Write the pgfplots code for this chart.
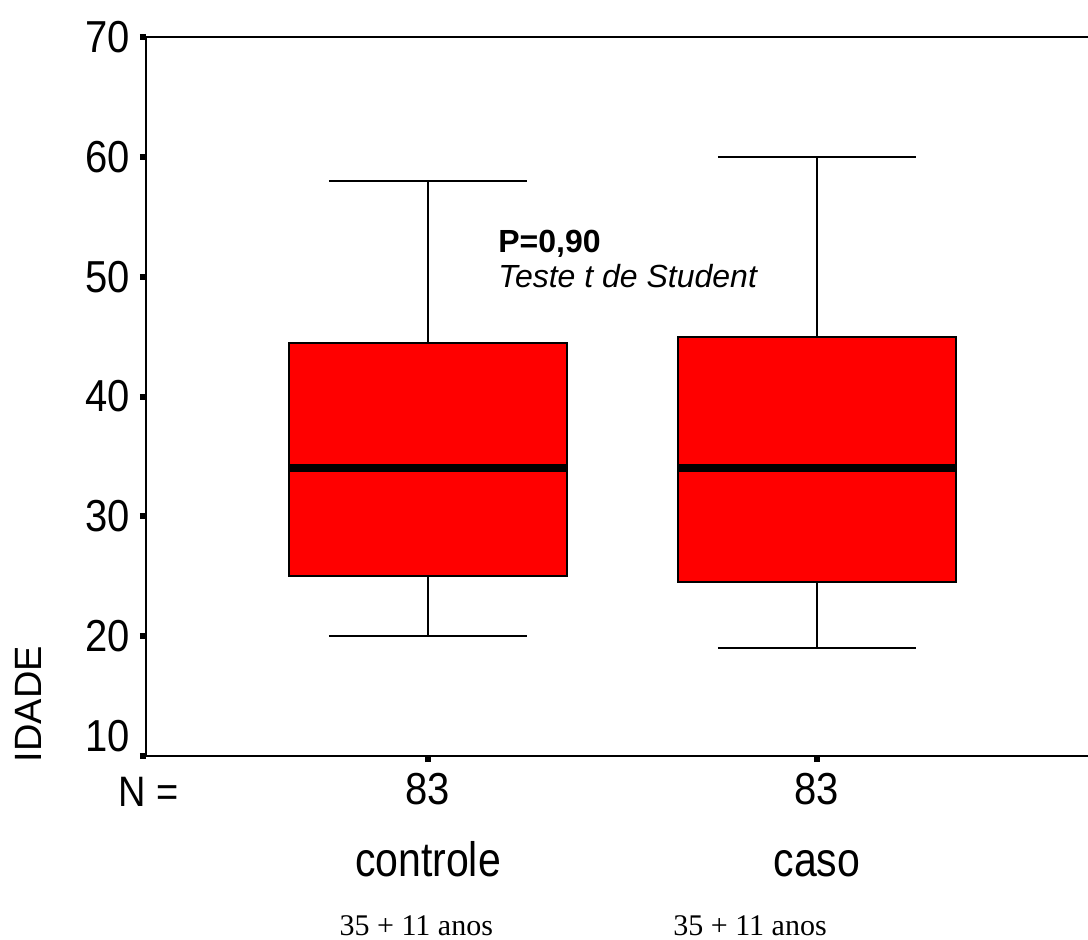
\documentclass[border=0pt]{standalone}
\usepackage{graphicx}
\usepackage{pgfplots}
\pgfplotsset{compat=1.18}
\usepgfplotslibrary{statistics}
\usepackage{fontspec}
\setmainfont{Liberation Sans}
\newfontfamily\timesf{Liberation Serif}
\newcommand{\st}[1]{\scalebox{1}[1.12]{#1}}
\begin{document}
\begin{tikzpicture}
\begin{axis}[
  scale only axis,
  width=471pt, height=359.5pt,
  xmin=0.2751, xmax=2.6967,
  ymin=10, ymax=70,
  axis x line*=bottom, axis y line*=left,
  axis line style={line width=1.4pt, black},
  clip=false,
  tick align=outside,
  major tick length=3pt,
  tick style={line width=3pt, black},
  xtick={1,2}, xticklabels={\st{83},\st{83}},
  ytick={20,30,40,50,60,70},
  yticklabel={\st{\pgfmathprintnumber{\tick}}},
  extra y ticks={10},
  extra y tick style={yticklabel style={yshift=10pt}},
  /pgf/number format/assume math mode=true,
  ticklabel style={font=\fontsize{20}{24}\selectfont, inner sep=0pt},
  yticklabel style={anchor=east, xshift=-5pt},
  xticklabel style={anchor=base, yshift=-21pt},
  boxplot/draw direction=y,
  boxplot/every median/.style={line width=4pt, black},
  boxplot/every box/.style={line width=1pt, draw=black, fill=red},
  boxplot/every whisker/.style={line width=1.1pt, black},
]
\addplot+[solid, black, mark=none, boxplot prepared={
  lower whisker=20, lower quartile=25, median=34,
  upper quartile=44.5, upper whisker=58,
  draw position=1, box extend=0.7147, whisker extend=0.509}]
  coordinates {};
\addplot+[solid, black, mark=none, boxplot prepared={
  lower whisker=19, lower quartile=24.5, median=34,
  upper quartile=45, upper whisker=60,
  draw position=2, box extend=0.7147, whisker extend=0.509}]
  coordinates {};
\coordinate (O) at (rel axis cs:0,0);
\draw[line width=1.4pt, black] (rel axis cs:0,1) -- (rel axis cs:1,1);
\node[anchor=base west, inner sep=0pt, font=\fontsize{19}{23}\selectfont]
  at ([shift={(-14pt,-25pt)}]rel axis cs:0,0) {\st{N =}};
\node[anchor=base, inner sep=0pt, font=\fontsize{20.5}{25}\selectfont]
  at ([yshift=-60pt]axis cs:1,10) {\scalebox{1}[1.18]{controle}};
\node[anchor=base, inner sep=0pt, font=\fontsize{20.5}{25}\selectfont]
  at ([yshift=-60pt]axis cs:2,10) {\scalebox{1}[1.18]{caso}};
\node[anchor=base, inner sep=0pt, font=\timesf\fontsize{15}{18}\selectfont]
  at ([yshift=-89.5pt]axis cs:0.970,10) {35 + 11 anos};
\node[anchor=base, inner sep=0pt, font=\timesf\fontsize{15}{18}\selectfont]
  at ([yshift=-89.5pt]axis cs:1.828,10) {35 + 11 anos};
\node[anchor=base, inner sep=0pt, rotate=90, font=\fontsize{19}{23}\selectfont]
  at ([shift={(-52pt,26pt)}]rel axis cs:0,0) {IDADE};
\node[anchor=base west, inner sep=0pt, font=\bfseries\fontsize{16}{19}\selectfont]
  at ([shift={(176pt,252pt)}]rel axis cs:0,0) {P=0,90};
\node[anchor=base west, inner sep=0pt, font=\itshape\fontsize{16}{19}\selectfont]
  at ([shift={(176pt,234.5pt)}]rel axis cs:0,0) {Teste t de Student};
\end{axis}
\pgfresetboundingbox
\path ([shift={(-73pt,-91.5pt)}]O) rectangle ([shift={(471pt,378pt)}]O);
\end{tikzpicture}
\end{document}
